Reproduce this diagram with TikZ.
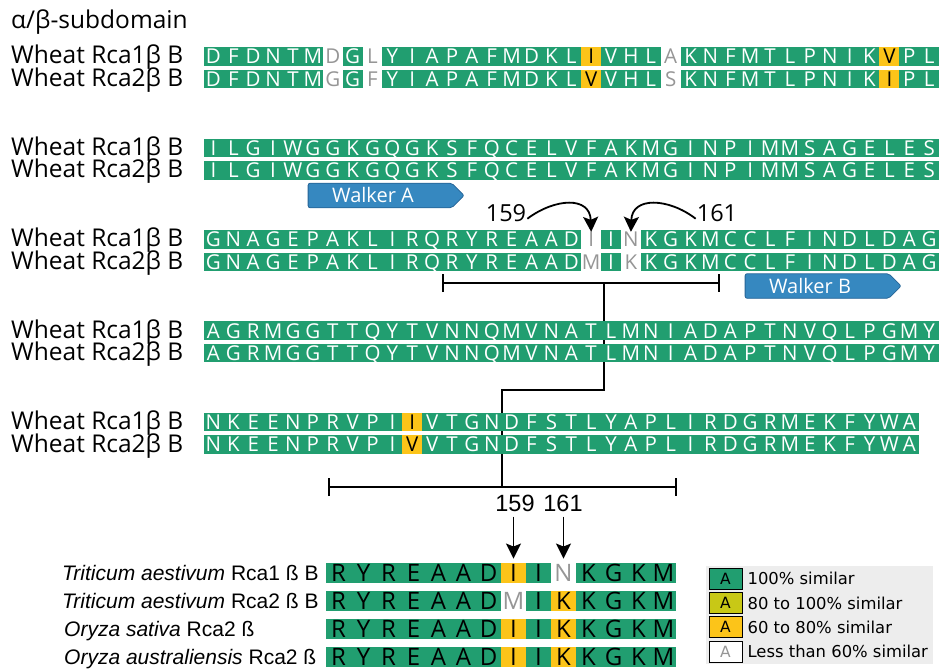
\documentclass[tikz,border=0pt]{standalone}
\usepackage{fontspec}
\setmainfont{Open Sans}
\newfontfamily\arialfont{Liberation Sans}
\newfontfamily\legfont{DejaVu Sans}
\usetikzlibrary{arrows.meta,positioning,shapes.symbols}
\definecolor{simgreen}{RGB}{33,158,112}
\definecolor{simyellow}{RGB}{252,196,25}
\definecolor{simolive}{RGB}{200,200,22}
\definecolor{gapgray}{RGB}{150,150,150}
\definecolor{walkblue}{RGB}{54,136,192}
\definecolor{walkedge}{RGB}{38,100,150}
\definecolor{legbg}{RGB}{237,237,237}
\tikzset{
  res/.style={minimum width=19.88, minimum height=18.5, inner sep=0pt, fill=simgreen, text=white,
    font=\fontsize{20.5}{20.5}\selectfont, text height=14.6pt, text depth=0pt},
  gapres/.style={fill=white, text=gapgray},
  varres/.style={fill=simyellow, text=black},
  lbl/.style={anchor=base west, inner sep=0pt, font=\fontsize{24.5}{24.5}\selectfont},
  splbl/.style={anchor=base west, inner sep=0pt, font=\arialfont\fontsize{21}{21}\selectfont},
  numlbl/.style={inner sep=1pt, font=\fontsize{23.5}{23.5}\selectfont},
  botnum/.style={inner sep=1pt, font=\arialfont\fontsize{23.5}{23.5}\selectfont},
  bracket/.style={line width=2.4pt},
  curvearrow/.style={line width=1.8pt, -{Stealth[length=15pt,width=15pt,inset=3pt]}},
  downarrow/.style={line width=1.8pt, -{Stealth[length=15pt,width=15pt,inset=3pt]}},
  walker/.style={signal, signal to=east, signal pointer angle=90, fill=walkblue, draw=walkedge,
    line width=0.8pt, rounded corners=2pt, text=white, font=\fontsize{20}{20}\selectfont,
    minimum width=156, minimum height=24.5, inner sep=0pt},
  swatch/.style={draw=black, line width=0.8pt, minimum width=33, minimum height=21, inner sep=0pt,
    font=\legfont\fontsize{15.5}{15.5}\selectfont},
  legtxt/.style={inner sep=0pt, font=\legfont\fontsize{16.4}{16.4}\selectfont}
}
% one aligned row: name, x of first cell, cell width, y, residues
\newcommand{\seqrow}[5]{%
  \foreach \amino [count=\i] in {#5}
    \node[res, c\i/.try] (#1-\i) at ({#2+(\i-0.5)*#3}, #4) {\amino};}

\begin{document}
\begin{tikzpicture}[x=1pt, y=-1pt]
        \useasboundingbox (0,0) rectangle (939,671);
        % Title and row labels
        \node[lbl] (title) at (11,29) {α/β-subdomain};
        \foreach \g in {1,...,5}{
          \node[lbl] (lab\g-a) at (11,{64+91.4*(\g-1)}) {Wheat Rca1β B};
          \node[lbl] (lab\g-b) at (11,{86.5+91.4*(\g-1)}) {Wheat Rca2β B};
        }
        % Bracket from the RYREAADIINKGKM stretch down to the lower panel
        \coordinate (bk1l) at (442,283);
        \coordinate (bk1r) at (720,283);
        \coordinate (bk1s) at (604,283);
        \coordinate (bk2l) at (328,487);
        \coordinate (bk2r) at (677,487);
        \coordinate (bk2s) at (502,487);
        \draw[bracket, {Bar[width=18pt]}-{Bar[width=18pt]}] (bk1l) -- (bk1r);
        \draw[bracket, {Bar[width=18pt]}-{Bar[width=18pt]}] (bk2l) -- (bk2r);
        \draw[bracket] (bk1s) -- ++(0,107) -| (bk2s);
        % Block 1
        \begin{scope}[c7/.style=gapres, c9/.style=gapres, c20/.style=varres, c24/.style=gapres, c35/.style=varres]
          \seqrow{r1a}{203.5}{19.88}{56.5}{D,F,D,N,T,M,D,G,L,Y,I,A,P,A,F,M,D,K,L,I,V,H,L,A,K,N,F,M,T,L,P,N,I,K,V,P,L}
          \seqrow{r1b}{203.5}{19.88}{79}{D,F,D,N,T,M,G,G,F,Y,I,A,P,A,F,M,D,K,L,V,V,H,L,S,K,N,F,M,T,L,P,N,I,K,I,P,L}
        \end{scope}
        % Block 2
        \seqrow{r2a}{203.5}{19.88}{147.9}{I,L,G,I,W,G,G,K,G,Q,G,K,S,F,Q,C,E,L,V,F,A,K,M,G,I,N,P,I,M,M,S,A,G,E,L,E,S}
        \seqrow{r2b}{203.5}{19.88}{170.4}{I,L,G,I,W,G,G,K,G,Q,G,K,S,F,Q,C,E,L,V,F,A,K,M,G,I,N,P,I,M,M,S,A,G,E,L,E,S}
        \node[walker] (walkA) at (380,195.5) {Walker A\hspace*{14pt}};
        % Block 3
        \begin{scope}[c20/.style=gapres, c22/.style=gapres]
          \seqrow{r3a}{203.5}{19.88}{239.3}{G,N,A,G,E,P,A,K,L,I,R,Q,R,Y,R,E,A,A,D,I,I,N,K,G,K,M,C,C,L,F,I,N,D,L,D,A,G}
          \seqrow{r3b}{203.5}{19.88}{261.8}{G,N,A,G,E,P,A,K,L,I,R,Q,R,Y,R,E,A,A,D,M,I,K,K,G,K,M,C,C,L,F,I,N,D,L,D,A,G}
        \end{scope}
        \node[walker] (walkB) at (817,286) {Walker B\hspace*{14pt}};
        \node[numlbl] (t159) at (506,213) {159};
        \node[numlbl] (t161) at (717,213) {161};
        \draw[curvearrow] (t159.-15) .. controls (555,198) and (590,196) .. ([yshift=-2pt]r3a-20.north);
        \draw[curvearrow] (t161.195) .. controls (669,198) and (632,196) .. ([yshift=-2pt]r3a-22.north);
        % Block 4
        \seqrow{r4a}{203.5}{19.88}{330.7}{A,G,R,M,G,G,T,T,Q,Y,T,V,N,N,Q,M,V,N,A,T,L,M,N,I,A,D,A,P,T,N,V,Q,L,P,G,M,Y}
        \seqrow{r4b}{203.5}{19.88}{353.2}{A,G,R,M,G,G,T,T,Q,Y,T,V,N,N,Q,M,V,N,A,T,L,M,N,I,A,D,A,P,T,N,V,Q,L,P,G,M,Y}
        % Block 5
        \begin{scope}[c11/.style=varres]
          \seqrow{r5a}{203.5}{19.88}{422.1}{N,K,E,E,N,P,R,V,P,I,I,V,T,G,N,D,F,S,T,L,Y,A,P,L,I,R,D,G,R,M,E,K,F,Y,W,A}
          \seqrow{r5b}{203.5}{19.88}{444.6}{N,K,E,E,N,P,R,V,P,I,V,V,T,G,N,D,F,S,T,L,Y,A,P,L,I,R,D,G,R,M,E,K,F,Y,W,A}
        \end{scope}
        % Lower panel: species comparison
        \begin{scope}[res/.append style={minimum width=25, minimum height=20.5, text=black,
            font=\fontsize{24}{24}\selectfont, text height=17.1pt}]
          \begin{scope}[c8/.style=varres, c10/.style=gapres]
            \seqrow{b1}{326}{25}{573}{R,Y,R,E,A,A,D,I,I,N,K,G,K,M}
          \end{scope}
          \begin{scope}[c8/.style=gapres, c10/.style=varres]
            \seqrow{b2}{326}{25}{601}{R,Y,R,E,A,A,D,M,I,K,K,G,K,M}
          \end{scope}
          \begin{scope}[c8/.style=varres, c10/.style=varres]
            \seqrow{b3}{326}{25}{629}{R,Y,R,E,A,A,D,I,I,K,K,G,K,M}
            \seqrow{b4}{326}{25}{657}{R,Y,R,E,A,A,D,I,I,K,K,G,K,M}
          \end{scope}
        \end{scope}
        \node[splbl] (sp1) at (62,580.5) {\textit{Triticum aestivum} Rca1 ß B};
        \node[splbl] (sp2) at (62,608.5) {\textit{Triticum aestivum} Rca2 ß B};
        \node[splbl] (sp3) at (64,636.5) {\textit{Oryza sativa} Rca2 ß};
        \node[splbl] (sp4) at (64,664.5) {\textit{Oryza australiensis} Rca2 ß};
        \node[botnum] (b159) at (515,503) {159};
        \node[botnum] (b161) at (563,503) {161};
        \draw[downarrow, shorten <=4pt, shorten >=4pt] (b159.south -| b1-8.north) -- (b1-8.north);
        \draw[downarrow, shorten <=4pt, shorten >=4pt] (b161.south -| b1-10.north) -- (b1-10.north);
        % Legend
        \node[fill=legbg, minimum width=227, minimum height=98, inner sep=0pt] (legend) at (819.5,615) {};
        \node[swatch, fill=simgreen] (sw1) at (725.5,578.5) {A};
        \node[swatch, fill=simolive] (sw2) at (725.5,603) {A};
        \node[swatch, fill=simyellow] (sw3) at (725.5,627) {A};
        \node[swatch, fill=white, text=gapgray] (sw4) at (725.5,651.5) {A};
        \node[legtxt, right=5pt of sw1] (lt1) {100\% similar};
        \node[legtxt, right=5pt of sw2] (lt2) {80 to 100\% similar};
        \node[legtxt, right=5pt of sw3] (lt3) {60 to 80\% similar};
        \node[legtxt, right=5pt of sw4] (lt4) {Less than 60\% similar};
      \end{tikzpicture}
\end{document}
